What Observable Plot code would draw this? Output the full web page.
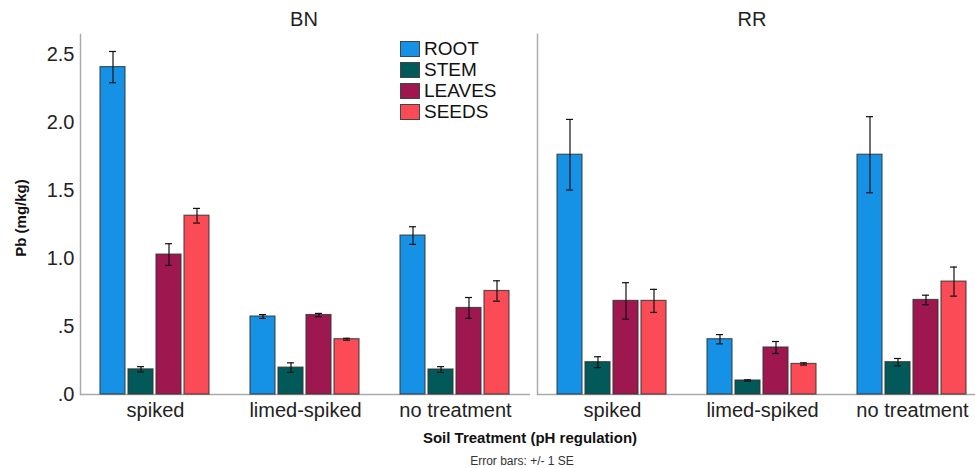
<!DOCTYPE html>
<html>
<head>
<meta charset="utf-8">
<script src="https://cdn.jsdelivr.net/npm/d3@7"></script>
<script src="https://cdn.jsdelivr.net/npm/@observablehq/plot@0.6"></script>
<style>
  html, body { margin: 0; padding: 0; background: #fff; overflow: hidden; }
  #wrap { position: relative; width: 975px; height: 468px; overflow: hidden; font-family: "Liberation Sans", Arial, sans-serif; color: #222; }
  #row { position: absolute; left: 0; top: 0; display: flex; }
  .t { position: absolute; white-space: nowrap; }
  .legend { position: absolute; left: 400px; top: 39px; font-size: 19px; color: #111; }
  .legend div { height: 20.8px; display: flex; align-items: center; }
  .legend span.sw { display: inline-block; width: 18px; height: 14px; border: 1px solid #444; margin-right: 4px; }
</style>
</head>
<body>
<div id="wrap">
  <div id="row"></div>
  <div class="t" style="left:304px; top:19px; transform:translate(-50%,-50%); font-size:20px;">BN</div>
  <div class="t" style="left:752px; top:19px; transform:translate(-50%,-50%); font-size:20px;">RR</div>
  <div class="t" style="left:20px; top:218px; transform:translate(-50%,-50%) rotate(-90deg); font-size:15px; font-weight:bold; color:#111;">Pb (mg/kg)</div>
  <div class="t" style="left:530px; top:437px; transform:translate(-50%,-50%); font-size:15px; font-weight:bold; color:#111;">Soil Treatment (pH regulation)</div>
  <div class="t" style="left:522px; top:461px; transform:translate(-50%,-50%); font-size:12px; color:#333;">Error bars: +/- 1 SE</div>
  <div class="legend" id="legend"></div>
</div>
<script>
const sites = ["BN", "RR"];
const treatments = ["spiked", "limed-spiked", "no treatment"];
const parts = ["ROOT", "STEM", "LEAVES", "SEEDS"];
const colors = ["#1591e6", "#02595a", "#9e174f", "#fa4b56"];
const yTicks = [0, 0.5, 1.0, 1.5, 2.0, 2.5];

// means [treatment][part]
const bnMeans = [[2.41, 0.185, 1.03, 1.316], [0.574, 0.198, 0.585, 0.407], [1.17, 0.184, 0.637, 0.762]];
const bnSE    = [[0.115, 0.02, 0.08, 0.054], [0.014, 0.035, 0.012, 0.007], [0.065, 0.021, 0.077, 0.075]];
const rrMeans = [[1.765, 0.238, 0.689, 0.689], [0.407, 0.103, 0.346, 0.225], [1.765, 0.238, 0.696, 0.831]];
const rrSE    = [[0.26, 0.04, 0.134, 0.085], [0.034, 0.005, 0.044, 0.008], [0.28, 0.027, 0.035, 0.107]];

function rows(means, se) {
  const out = [];
  treatments.forEach((t, i) => parts.forEach((p, j) => {
    out.push({treatment: t, part: p, value: means[i][j], lo: means[i][j] - se[i][j], hi: means[i][j] + se[i][j]});
  }));
  return out;
}

const fmt = d => d < 1 ? d3.format(".1f")(d).replace(/^0/, "") : d3.format(".1f")(d);

function panel(data, width, marginLeft, showLabels) {
  const svg = Plot.plot({
    width, height: 430, marginLeft, marginRight: 0, marginTop: 34, marginBottom: 36,
    style: {fontFamily: "Liberation Sans, Arial, sans-serif", fontSize: "20px", color: "#222", background: "white", overflow: "visible"},
    facet: {data, x: "treatment"},
    fx: {domain: treatments, padding: 0, label: null, tickSize: 0, tickPadding: 8, axis: "bottom"},
    x: {domain: parts, paddingInner: 0.1, paddingOuter: 0.645, axis: null},
    y: {domain: [0, 2.65], ticks: yTicks, tickSize: 0, tickPadding: 6, line: true, label: null, tickFormat: showLabels ? fmt : () => ""},
    color: {domain: parts, range: colors},
    marks: [
      Plot.ruleY([0], {stroke: "#aaa", strokeWidth: 1.5}),
      Plot.barY(data, {x: "part", y: "value", fill: "part", stroke: "#333", strokeWidth: 1.2, strokeOpacity: 0.8}),
      Plot.ruleX(data, {x: "part", y1: "lo", y2: "hi", stroke: "#111", strokeWidth: 1.2}),
      Plot.tickY(data, {x: "part", y: "lo", insetLeft: 9, insetRight: 9, stroke: "#111", strokeWidth: 1.2}),
      Plot.tickY(data, {x: "part", y: "hi", insetLeft: 9, insetRight: 9, stroke: "#111", strokeWidth: 1.2})
    ]
  });
  svg.querySelectorAll('g[aria-label]').forEach(g => {
    const lab = g.getAttribute("aria-label") || "";
    if (/axis|frame/.test(lab) && !/label/.test(lab)) {
      g.setAttribute("stroke", "#aaa");
      g.setAttribute("stroke-width", "1.5");
      g.querySelectorAll("path, line, rect").forEach(e => {
        e.setAttribute("stroke", "#aaa");
        e.setAttribute("stroke-width", "1.5");
      });
    }
  });
  return svg;
}

const row = document.getElementById("row");
row.appendChild(panel(rows(bnMeans, bnSE), 530, 80, true));
row.appendChild(panel(rows(rrMeans, rrSE), 457, 7, false));

const legend = document.getElementById("legend");
parts.forEach((p, i) => {
  const d = document.createElement("div");
  d.innerHTML = `<span class="sw" style="background:${colors[i]}"></span>${p}`;
  legend.appendChild(d);
});
</script>
</body>
</html>
